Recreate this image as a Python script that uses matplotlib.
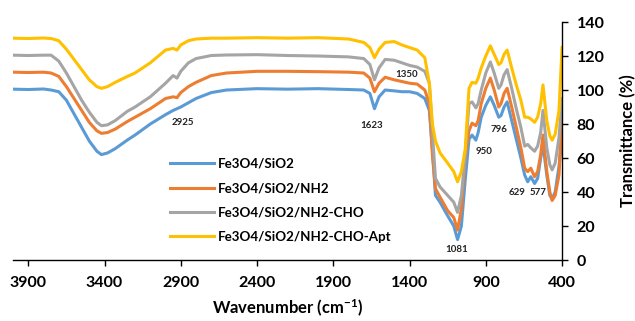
import numpy as np
import matplotlib
matplotlib.use("Agg")
from matplotlib import pyplot as plt

plt.rcParams['font.family'] = ['Lato', 'DejaVu Sans']
plt.rcParams['font.weight'] = 'bold'
plt.rcParams['mathtext.fontset'] = 'custom'
plt.rcParams['mathtext.rm'] = 'Lato:bold'
plt.rcParams['mathtext.default'] = 'rm'

# wavenumbers (cm-1), shared by all four spectra
wavenumber = [4000, 3900, 3800, 3750, 3700, 3650, 3600, 3550, 3500, 3450, 3420, 3380,
              3330, 3250, 3200, 3100, 3000, 2950, 2925, 2900, 2850, 2800, 2700, 2600,
              2400, 2200, 2000, 1800, 1700, 1660, 1630, 1600, 1560, 1500, 1450, 1400,
              1350, 1300, 1270, 1250, 1230, 1200, 1150, 1110, 1085, 1060, 1035, 1010,
              990, 965, 950, 930, 900, 870, 845, 815, 800, 780, 760, 730, 700, 670,
              645, 625, 605, 580, 560, 540, 525, 500, 480, 465, 445, 420, 400]

fe3o4_sio2 = [100.5, 100.3, 100.6, 100, 99, 94, 86, 78, 70, 64, 62, 63,
              65.5, 70.6, 73.5, 80, 85.5, 88, 89, 90, 92.5, 95, 98.5, 100,
              100.8, 100.5, 100.8, 100.3, 100, 98, 89, 96, 100, 99.5, 99, 99,
              98, 95, 88, 65, 38, 34, 26, 20, 12, 20, 47, 71,
              73.5, 70.5, 75, 84, 91, 96, 91, 84, 85, 90, 93, 82, 71, 60,
              50, 46, 49, 45, 48, 60, 68, 50, 38, 36, 40, 55, 72]

fe3o4_sio2_nh2 = [110.5, 110.3, 110.5, 110, 108, 102, 95, 88, 81, 76, 74.5, 75,
                  77, 81.5, 84, 89, 95, 96, 95.5, 98.5, 102, 104.5, 108.5, 110,
                  111, 111, 110.8, 110.5, 110, 107, 99, 104, 107.5, 106, 105, 104,
                  103.5, 100, 92, 62, 42, 37, 29, 25, 17.6, 30, 60, 76,
                  80.5, 79, 82, 92, 101, 107, 100, 90, 92, 98, 101, 90, 78, 66,
                  54, 52, 54, 49, 52, 62, 73.5, 52, 40, 35, 38, 50, 88]

fe3o4_sio2_nh2_cho = [120.5, 120.3, 120.5, 120.5, 117, 110, 102, 94, 87, 81, 79, 79.5,
                      82, 87.5, 90, 96, 104, 108.5, 107, 111, 116, 118.5, 120.3, 120.6,
                      120.8, 120.3, 120, 119.5, 118.5, 115, 106, 113, 118, 117.5, 116, 114.5,
                      113.5, 111, 104, 75, 48, 43, 38, 34, 28, 38, 62, 92,
                      93, 89.5, 92, 100, 110, 116.5, 110, 101, 103, 109, 112, 101, 89, 78,
                      67, 68, 66, 64, 67, 75, 88, 66, 56, 53, 57, 72, 95]

fe3o4_sio2_nh2_cho_apt = [130.5, 130.3, 130.6, 130.3, 129, 124, 118, 112, 106, 102, 101, 102,
                          104.5, 108, 110, 116, 123.5, 124.5, 123.5, 126.5, 129, 130, 130.5, 130.5,
                          130.8, 130.5, 130.8, 130, 128, 125, 119, 124, 128, 128.5, 126.5, 125,
                          123.5, 119, 104, 80, 70, 63, 57, 52, 46, 52, 65, 101,
                          104.5, 104, 107, 113, 120, 126, 121, 115, 116, 121, 123.5, 113, 103, 94,
                          84, 84, 83, 81, 84, 92, 103, 82, 73, 70.5, 74, 88, 125]

series_names = ["Fe3O4/SiO2", "Fe3O4/SiO2/NH2", "Fe3O4/SiO2/NH2-CHO", "Fe3O4/SiO2/NH2-CHO-Apt"]
colors = ["#5B9BD5", "#ED7D31", "#A5A5A5", "#FFC000"]

peak_labels = ["2925", "1623", "1350", "950", "796", "1081", "629", "577"]
peak_x = [2884, 1646, 1416, 912, 814, 1089, 696, 558]
peak_y = [81, 79, 109, 64, 77, 6, 40, 40]

x_ticks = [3900, 3400, 2900, 2400, 1900, 1400, 900, 400]
y_ticks = [0, 20, 40, 60, 80, 100, 120, 140]

fig = plt.figure(figsize=(6.35, 3.21), dpi=100)
ax = fig.add_axes([0.0205, 0.190, 0.8646, 0.7414])

for values, name, c in zip([fe3o4_sio2, fe3o4_sio2_nh2, fe3o4_sio2_nh2_cho, fe3o4_sio2_nh2_cho_apt],
                           series_names, colors):
    ax.plot(wavenumber, values, color=c, lw=2.2, label=name, solid_joinstyle='round')

for lab, px, py in zip(peak_labels, peak_x, peak_y):
    ax.text(px, py, lab, fontsize=7, fontweight='bold', color='#222222', ha='center', va='center')

ax.set_xlim(4000, 400)
ax.set_ylim(0, 140)
ax.set_xticks(x_ticks)
ax.set_yticks(y_ticks)

ax.spines['left'].set_visible(False)
ax.spines['top'].set_visible(False)
ax.spines['bottom'].set_linewidth(1.0)
ax.spines['right'].set_linewidth(1.0)
ax.yaxis.tick_right()
ax.yaxis.set_label_position('right')
ax.tick_params(axis='both', direction='out', length=4.5, width=1.0, labelsize=11.5)
ax.tick_params(axis='x', pad=7)
ax.tick_params(axis='y', pad=6)

ax.set_xlabel(r'Wavenumber (cm$^{-1}$)', fontsize=12, fontweight='bold', labelpad=6)
ax.set_ylabel('Transmittance (%)', fontsize=12, fontweight='bold', labelpad=11)

ax.legend(loc='upper left', bbox_to_anchor=(0.268, 0.508), bbox_transform=fig.transFigure,
          frameon=False, fontsize=9.6, handlelength=3.3, handletextpad=0.3,
          labelspacing=0.92, borderpad=0, borderaxespad=0)

plt.savefig("out.png", dpi=100)
